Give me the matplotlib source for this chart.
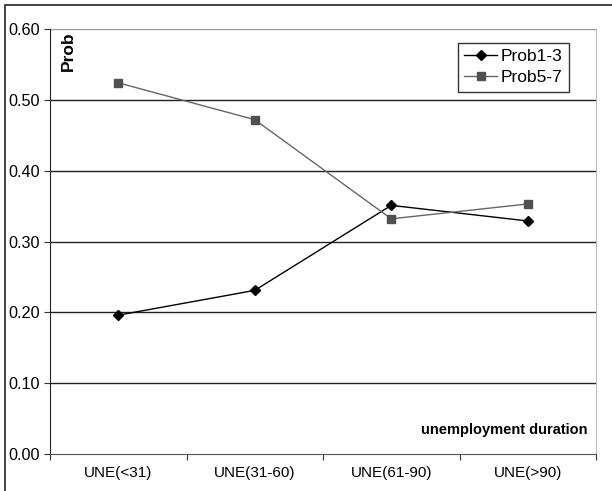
import matplotlib.pyplot as plt
from matplotlib.patches import Rectangle

plt.rcParams['font.family'] = ['Liberation Sans', 'DejaVu Sans']

categories = ["UNE(<31)", "UNE(31-60)", "UNE(61-90)", "UNE(>90)"]
prob13 = [0.196, 0.231, 0.351, 0.329]
prob57 = [0.524, 0.472, 0.332, 0.353]
y_ticks = [0.0, 0.1, 0.2, 0.3, 0.4, 0.5, 0.6]

fig = plt.figure(figsize=(6.12, 4.91), dpi=100)
# outer frame (Excel chart area), only left and top edges are visible
fig.patches.append(Rectangle((5 / 612, -0.1), 1.2, 1.1 - 5 / 491,
                             transform=fig.transFigure, fill=False,
                             edgecolor="#222222", linewidth=1.2))

ax = fig.add_axes([50 / 612, 1 - 454 / 491, 546 / 612, 425 / 491])

x = range(len(categories))
ax.plot(x, prob13, color="black", linewidth=1.0, marker="D", markersize=5,
        markerfacecolor="black", markeredgecolor="black", label="Prob1-3")
ax.plot(x, prob57, color="#666666", linewidth=1.0, marker="s", markersize=6,
        markerfacecolor="#505050", markeredgecolor="#505050", label="Prob5-7")

ax.set_xlim(-0.5, 3.5)
ax.set_ylim(0, 0.6)
ax.set_yticks(y_ticks)
ax.set_yticklabels([f"{v:.2f}" for v in y_ticks], fontsize=11.7)
for v in y_ticks[1:-1]:
    ax.axhline(v, color="#222222", linewidth=1.0, zorder=0)
ax.axhline(0.6, color="#999999", linewidth=1.0, zorder=0)

ax.set_xticks([i - 0.5 for i in range(len(categories) + 1)], minor=False)
ax.set_xticklabels([])
ax.set_xticks(list(x), minor=True)
ax.set_xticklabels(categories, minor=True, fontsize=11)
ax.tick_params(axis="x", which="minor", length=0, pad=9)
ax.tick_params(axis="x", which="major", length=4, direction="out", color="#333333")
ax.tick_params(axis="y", length=4, direction="out", color="#333333", pad=3)

ax.spines["top"].set_visible(False)
ax.spines["right"].set_color("#bbbbbb")
ax.spines["left"].set_color("#222222")
ax.spines["bottom"].set_color("#555555")

ax.text(0.033, 0.995, "Prob", transform=ax.transAxes, rotation=90,
        fontsize=12.5, fontweight="bold", ha="center", va="top")
ax.text(0.985, 0.04, "unemployment duration", transform=ax.transAxes,
        fontsize=10.5, fontweight="bold", ha="right", va="bottom")

leg = ax.legend(loc="upper right", bbox_to_anchor=(0.95, 0.967), fontsize=12.5,
                frameon=True, fancybox=False, borderpad=0.35, labelspacing=0.35,
                handlelength=1.9, handletextpad=0.2, borderaxespad=0)
leg.get_frame().set_edgecolor("black")
leg.get_frame().set_linewidth(1.0)

fig.savefig("out.png", dpi=100)
